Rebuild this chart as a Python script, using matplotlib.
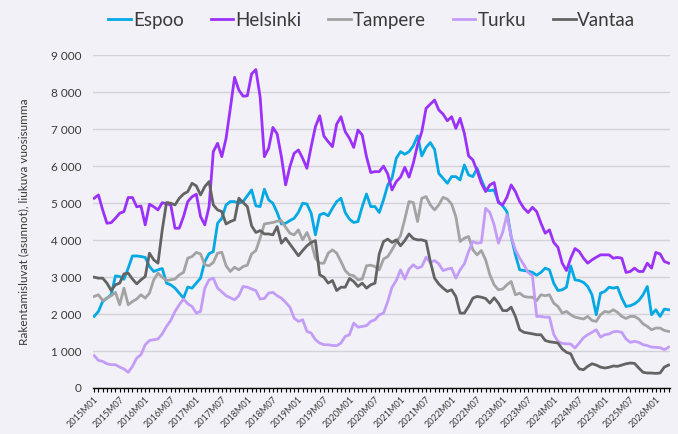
import matplotlib
matplotlib.use("Agg")
import matplotlib.pyplot as plt
from matplotlib.ticker import FuncFormatter, MultipleLocator

# months 2015M01 .. 2026M04
months = [f"{y}M{m:02d}" for y in range(2015, 2027) for m in range(1, 13)][:136]

espoo = [1935, 2070, 2340, 2430, 2520, 3030, 3015, 2940, 3240, 3570, 3570, 3555,
         3530, 3285, 3150, 3195, 3230, 2835, 2790, 2700, 2565, 2430, 2730, 2700,
         2835, 2970, 3420, 3630, 3690, 4455, 4590, 4950, 5040, 5040, 4995, 5040,
         5200, 5355, 4925, 4905, 5375, 5085, 4995, 4745, 4435, 4455, 4525, 4590,
         4750, 4995, 4975, 4725, 4140, 4680, 4725, 4655, 4860, 5040, 5130, 4745,
         4565, 4475, 4500, 4905, 5245, 4905, 4905, 4745, 5085, 5490, 5670, 6210,
         6390, 6320, 6390, 6550, 6815, 6275, 6505, 6635, 6450, 5800, 5670, 5535,
         5715, 5715, 5625, 6030, 5760, 5715, 5940, 5625, 5355, 5335, 5355, 5040,
         4925, 4770, 4095, 3600, 3195, 3175, 3160, 3125, 3050, 3125, 3240, 3195,
         2835, 2635, 2655, 2725, 3300, 2925, 2905, 2855, 2745, 2520, 1980, 2565,
         2610, 2725, 2700, 2725, 2430, 2205, 2225, 2275, 2365, 2520, 2745, 1980,
         2115, 1935, 2135, 2115]

helsinki = [5130, 5220, 4815, 4455, 4470, 4590, 4725, 4770, 5150, 5150, 4900, 4920,
            4410, 4970, 4900, 4815, 5010, 4980, 4950, 4320, 4320, 4635, 5040, 5170,
            5240, 4635, 4410, 4900, 6390, 6615, 6255, 6750, 7560, 8400, 8055, 7890,
            7900, 8490, 8610, 7875, 6255, 6480, 7045, 6870, 6255, 5490, 5985, 6345,
            6435, 6210, 5940, 6525, 7065, 7360, 6810, 6660, 6525, 7135, 7335, 6930,
            6750, 6505, 6975, 6840, 6255, 5825, 5850, 5850, 6000, 5785, 5355, 5580,
            5700, 5965, 5700, 6075, 6570, 6930, 7560, 7675, 7785, 7515, 7405, 7225,
            7335, 7020, 7290, 6885, 6275, 6165, 5875, 5535, 5310, 5490, 5555, 5015,
            4950, 5155, 5490, 5310, 5040, 4860, 4745, 4885, 4770, 4455, 4185, 4275,
            3935, 3805, 3375, 3175, 3510, 3770, 3690, 3510, 3375, 3465, 3535, 3600,
            3600, 3600, 3510, 3530, 3510, 3125, 3150, 3240, 3150, 3150, 3375, 3240,
            3665, 3625, 3420, 3375]

tampere = [2475, 2520, 2365, 2430, 2495, 2585, 2250, 2700, 2250, 2340, 2405, 2520,
           2430, 2565, 2925, 3105, 2995, 2905, 2925, 2945, 3060, 3125, 3510, 3555,
           3665, 3625, 3330, 3305, 3395, 3645, 3670, 3305, 3150, 3265, 3195, 3285,
           3320, 3625, 3715, 4050, 4435, 4455, 4475, 4510, 4525, 4345, 4185, 4140,
           4275, 4005, 4205, 3935, 3510, 3375, 3375, 3645, 3735, 3645, 3420, 3175,
           3060, 3035, 2925, 2945, 3305, 3320, 3285, 3195, 3485, 3555, 3735, 3940,
           4115, 4565, 5040, 5015, 4500, 5130, 5175, 4950, 4815, 4950, 5155, 5105,
           4975, 4635, 3960, 4050, 4095, 3735, 3600, 3715, 3465, 3060, 2790, 2655,
           2675, 2790, 2880, 2520, 2565, 2475, 2455, 2455, 2365, 2520, 2495, 2520,
           2295, 2205, 2025, 2070, 1980, 1915, 1890, 1865, 1935, 1825, 1800, 1980,
           2070, 2045, 2115, 2045, 1935, 1880, 1935, 1935, 1865, 1735, 1665, 1575,
           1620, 1620, 1555, 1530]

turku = [875, 745, 720, 655, 630, 630, 565, 515, 425, 585, 810, 900,
         1170, 1285, 1305, 1325, 1465, 1665, 1825, 2070, 2250, 2405, 2275, 2205,
         2025, 2070, 2700, 2925, 2970, 2700, 2600, 2495, 2440, 2385, 2495, 2745,
         2725, 2675, 2635, 2405, 2420, 2565, 2585, 2495, 2430, 2315, 2185, 1890,
         1800, 1845, 1530, 1485, 1305, 1215, 1170, 1170, 1150, 1145, 1215, 1395,
         1440, 1755, 1645, 1665, 1685, 1800, 1845, 1980, 2025, 2340, 2725, 2905,
         3195, 2945, 3215, 3330, 3240, 3285, 3535, 3395, 3445, 3355, 3175, 3215,
         3240, 2970, 3195, 3355, 3690, 3960, 3915, 3935, 4860, 4745, 4410, 3915,
         4205, 4680, 4095, 3735, 3510, 3330, 3125, 3035, 1935, 1935, 1915, 1915,
         1450, 1260, 1205, 1195, 1190, 1080, 1215, 1360, 1440, 1505, 1575, 1375,
         1440, 1460, 1520, 1530, 1505, 1325, 1235, 1260, 1235, 1170, 1145, 1105,
         1100, 1090, 1035, 1105]

vantaa = [2995, 2970, 2970, 2835, 2635, 2790, 2835, 3085, 3105, 2945, 2815, 2925,
          3015, 3645, 3465, 3375, 4275, 5015, 4995, 4950, 5130, 5245, 5310, 5535,
          5465, 5220, 5445, 5580, 4950, 4815, 4770, 4435, 4500, 4545, 5130, 5015,
          4905, 4385, 4205, 4255, 4165, 4165, 4140, 4365, 3915, 4050, 3895, 3735,
          3575, 3715, 3845, 3935, 3985, 3060, 2995, 2835, 2905, 2635, 2725, 2725,
          2960, 2880, 2745, 2835, 2700, 2790, 2835, 3625, 3960, 4025, 3935, 4005,
          3845, 3985, 4165, 4040, 4005, 4005, 3970, 3420, 2970, 2810, 2700, 2610,
          2655, 2475, 2025, 2025, 2205, 2430, 2475, 2455, 2420, 2295, 2440, 2295,
          2095, 2090, 2185, 1935, 1575, 1505, 1485, 1465, 1440, 1440, 1285, 1250,
          1235, 1215, 1055, 965, 925, 675, 515, 495, 585, 655, 620, 565,
          540, 560, 595, 585, 620, 655, 675, 665, 540, 425, 405, 405,
          395, 405, 565, 620]

series = [("Espoo", espoo, "#00a8e4"),
          ("Helsinki", helsinki, "#9b30ff"),
          ("Tampere", tampere, "#a3a3a3"),
          ("Turku", turku, "#c39cf7"),
          ("Vantaa", vantaa, "#636363")]

bg = "#f2f1f7"
txt = "#3a3a3a"
plt.rcParams['font.family'] = ['Lato', 'DejaVu Sans']

fig = plt.figure(figsize=(6.78, 4.34), dpi=100, facecolor=bg)
ax = fig.add_axes([0.137, 0.106, 0.851, 0.767], facecolor=bg)

x = list(range(len(months)))
for name, vals, col in series:
    ax.plot(x, vals, color=col, lw=2.0, label=name, solid_joinstyle='round')

ax.set_ylim(0, 9000)
ax.set_xlim(-0.3, len(months) - 0.7)
ax.yaxis.set_major_locator(MultipleLocator(1000))
ax.yaxis.set_major_formatter(FuncFormatter(lambda v, p: f"{int(v):,}".replace(",", " ")))
ax.grid(axis='y', color='#d2d2d8', lw=1.0)
ax.set_axisbelow(True)

ax.set_xticks(x[::6])
ax.set_xticklabels(months[::6], rotation=45, ha='right', rotation_mode='anchor', fontsize=6.5, color=txt)
ax.set_xticks(x, minor=True)
ax.tick_params(axis='x', which='both', direction='out', length=3, width=0.8, color='black', pad=2)
ax.tick_params(axis='y', length=0, labelsize=8.5, labelcolor=txt, pad=8)

for s in ['top', 'right', 'left']:
    ax.spines[s].set_visible(False)
ax.spines['bottom'].set_color('black')
ax.spines['bottom'].set_linewidth(1.0)

ax.set_ylabel("Rakentamisluvat (asunnot), liukuva vuosisumma", fontsize=8.5, color=txt, labelpad=16)

fig.legend(loc='upper left', bbox_to_anchor=(0.135, 1.012), ncol=5, frameon=False,
           fontsize=13.5, handlelength=1.2, handletextpad=0.1, columnspacing=1.45,
           labelcolor=txt)

fig.savefig("out.png", dpi=100, facecolor=bg)
